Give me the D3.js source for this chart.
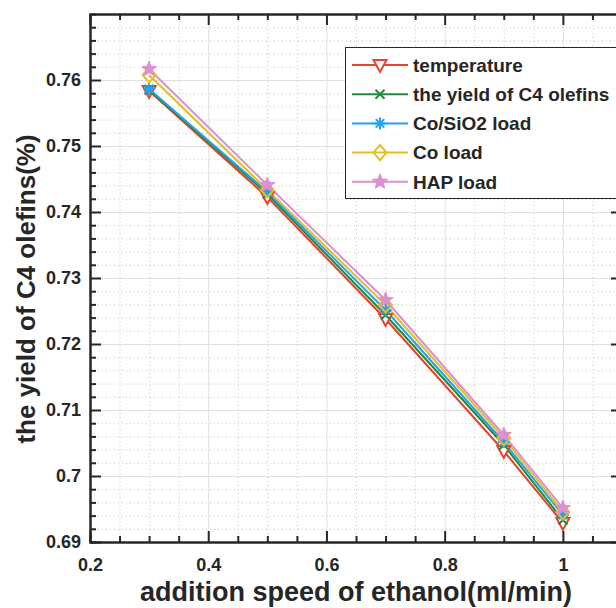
<!DOCTYPE html>
<html>
<head>
<meta charset="utf-8">
<script src="https://cdn.jsdelivr.net/npm/d3@7"></script>
<style>
  body { margin: 0; background: #fff; }
  text { font-family: "Liberation Sans", Arial, sans-serif; font-weight: bold; fill: #262626; }
</style>
</head>
<body>
<div id="chart"></div>
<script>
// data
var speeds = [0.3, 0.5, 0.7, 0.9, 1.0];
var temperature = [0.75833, 0.74227, 0.72379, 0.70379, 0.69288];
var c4Yield     = [0.75848, 0.74273, 0.72439, 0.70470, 0.69333];
var coSiO2Load  = [0.75864, 0.74303, 0.72515, 0.70515, 0.69409];
var coLoad      = [0.76076, 0.74333, 0.72591, 0.70576, 0.69455];
var hapLoad     = [0.76167, 0.74409, 0.72667, 0.70621, 0.69515];

var seriesNames = ["temperature", "the yield of C4 olefins", "Co/SiO2 load", "Co load", "HAP load"];
var xMajor = [0.2, 0.4, 0.6, 0.8, 1.0];
var yMajor = [0.69, 0.70, 0.71, 0.72, 0.73, 0.74, 0.75, 0.76];

var colors  = ["#e8412c", "#1c8b3c", "#21a3e8", "#e6be22", "#dc8fd3"];
var markers = ["tri", "x", "ast", "diamond", "star"];

makeChart();

function makeChart() {
  var W = 616, H = 608;
  var left = 90, right = 622, top = 14, bottom = 542;

  var svg = d3.select("#chart").append("svg")
      .attr("width", W)
      .attr("height", H);

  var x = d3.scaleLinear().domain([0.2, 1.1]).range([left, right]);
  var y = d3.scaleLinear().domain([0.69, 0.77]).range([bottom, top]);

  // minor tick positions
  var xMinor = d3.range(0, 19).map(function(i) { return +(0.2 + i * 0.05).toFixed(2); })
      .filter(function(v) { return xMajor.indexOf(v) < 0; });
  var yMinor = d3.range(0, 41).map(function(i) { return +(0.69 + i * 0.002).toFixed(3); })
      .filter(function(v) { return Math.round(v * 1000) % 10 != 0; });

  // grid: dotted minor, solid major
  svg.append("g")
      .attr("class", "grid minor")
      .attr("transform", "translate(0," + bottom + ")")
      .call(d3.axisBottom(x).tickValues(xMinor).tickSize(-(bottom - top)).tickFormat(""));
  svg.append("g")
      .attr("class", "grid minor")
      .attr("transform", "translate(" + left + ",0)")
      .call(d3.axisLeft(y).tickValues(yMinor).tickSize(-(right - left)).tickFormat(""));
  svg.append("g")
      .attr("class", "grid major")
      .attr("transform", "translate(0," + bottom + ")")
      .call(d3.axisBottom(x).tickValues(xMajor).tickSize(-(bottom - top)).tickFormat(""));
  svg.append("g")
      .attr("class", "grid major")
      .attr("transform", "translate(" + left + ",0)")
      .call(d3.axisLeft(y).tickValues(yMajor).tickSize(-(right - left)).tickFormat(""));

  svg.selectAll(".grid .domain").remove();
  svg.selectAll(".grid.minor line")
      .attr("stroke", "#c4c4c4")
      .attr("stroke-width", 1)
      .attr("stroke-dasharray", "1,3");
  svg.selectAll(".grid.major line")
      .attr("stroke", "#e0e0e0")
      .attr("stroke-width", 1);

  // series lines + markers
  var allSeries = [temperature, c4Yield, coSiO2Load, coLoad, hapLoad];
  var line = d3.line()
      .x(function(d, i) { return x(speeds[i]); })
      .y(function(d) { return y(d); });

  allSeries.forEach(function(vals, k) {
    svg.append("path")
        .datum(vals)
        .attr("fill", "none")
        .attr("stroke", colors[k])
        .attr("stroke-width", 2)
        .attr("d", line);
  });
  allSeries.forEach(function(vals, k) {
    vals.forEach(function(v, i) {
      drawMarker(svg, markers[k], colors[k], x(speeds[i]), y(v));
    });
  });

  // axes: inward ticks on all four sides
  var tickLen = 11, minorLen = 6;

  var gx = svg.append("g")
      .attr("class", "axis")
      .attr("transform", "translate(0," + bottom + ")")
      .call(d3.axisBottom(x).tickValues(xMajor).tickSize(-tickLen).tickSizeOuter(0)
        .tickPadding(16).tickFormat(function(d) { return d3.format("")(+d.toFixed(1)); }));
  gx.append("g").call(d3.axisBottom(x).tickValues(xMinor).tickSize(-minorLen).tickFormat(""));

  var gxt = svg.append("g")
      .attr("class", "axis")
      .attr("transform", "translate(0," + top + ")")
      .call(d3.axisTop(x).tickValues(xMajor).tickSize(-tickLen).tickSizeOuter(0).tickFormat(""));
  gxt.append("g").call(d3.axisTop(x).tickValues(xMinor).tickSize(-minorLen).tickFormat(""));

  var gy = svg.append("g")
      .attr("class", "axis")
      .attr("transform", "translate(" + left + ",0)")
      .call(d3.axisLeft(y).tickValues(yMajor).tickSize(-tickLen).tickSizeOuter(0)
        .tickPadding(9).tickFormat(function(d) { return d3.format("")(+d.toFixed(2)); }));
  gy.append("g").call(d3.axisLeft(y).tickValues(yMinor).tickSize(-minorLen).tickFormat(""));

  var gyr = svg.append("g")
      .attr("class", "axis")
      .attr("transform", "translate(" + right + ",0)")
      .call(d3.axisRight(y).tickValues(yMajor).tickSize(-tickLen).tickSizeOuter(0).tickFormat(""));
  gyr.append("g").call(d3.axisRight(y).tickValues(yMinor).tickSize(-minorLen).tickFormat(""));

  svg.selectAll(".axis g g .domain").remove();
  svg.selectAll(".axis .domain").attr("stroke", "#262626").attr("stroke-width", 2);
  svg.selectAll(".axis line").attr("stroke", "#262626").attr("stroke-width", 2);
  svg.selectAll(".axis text")
      .attr("font-size", 18)
      .attr("font-family", "'Liberation Sans', Arial, sans-serif")
      .attr("font-weight", "bold")
      .attr("fill", "#262626");

  // axis titles
  svg.append("text")
      .attr("x", (left + right) / 2)
      .attr("y", 601)
      .attr("text-anchor", "middle")
      .attr("font-size", 27)
      .text("addition speed of ethanol(ml/min)");

  svg.append("text")
      .attr("transform", "translate(35," + 289 + ") rotate(-90)")
      .attr("text-anchor", "middle")
      .attr("font-size", 26)
      .text("the yield of C4 olefins(%)");

  // legend
  var legend = svg.append("g").attr("class", "legend");
  legend.append("rect")
      .attr("x", 345.5).attr("y", 47.5)
      .attr("width", 276).attr("height", 151)
      .attr("fill", "#fff")
      .attr("stroke", "#262626")
      .attr("stroke-width", 1);

  seriesNames.forEach(function(name, k) {
    var ly = 65 + k * 29.2;
    legend.append("line")
        .attr("x1", 352).attr("x2", 408)
        .attr("y1", ly).attr("y2", ly)
        .attr("stroke", colors[k])
        .attr("stroke-width", 2);
    drawMarker(legend, markers[k], colors[k], 380, ly);
    legend.append("text")
        .attr("x", 413)
        .attr("y", ly)
        .attr("dy", "0.36em")
        .attr("font-size", 19)
        .text(name);
  });
}

// MATLAB-like markers
function drawMarker(sel, type, color, cx, cy) {
  var p = d3.path();
  if (type == "tri") {
    p.moveTo(cx - 6.5, cy - 5); p.lineTo(cx + 6.5, cy - 5); p.lineTo(cx, cy + 7); p.closePath();
    sel.append("path").attr("d", p.toString())
        .attr("fill", "#fff").attr("stroke", color).attr("stroke-width", 2);
  }
  else if (type == "x") {
    var r = 4.5;
    p.moveTo(cx - r, cy - r); p.lineTo(cx + r, cy + r);
    p.moveTo(cx - r, cy + r); p.lineTo(cx + r, cy - r);
    sel.append("path").attr("d", p.toString())
        .attr("fill", "none").attr("stroke", color).attr("stroke-width", 2);
  }
  else if (type == "ast") {
    var a = 6;
    for (var i = 0; i < 4; i++) {
      var ang = i * Math.PI / 4;
      p.moveTo(cx - a * Math.cos(ang), cy - a * Math.sin(ang));
      p.lineTo(cx + a * Math.cos(ang), cy + a * Math.sin(ang));
    }
    sel.append("path").attr("d", p.toString())
        .attr("fill", "none").attr("stroke", color).attr("stroke-width", 2);
  }
  else if (type == "diamond") {
    p.moveTo(cx, cy - 7.5); p.lineTo(cx + 6.5, cy); p.lineTo(cx, cy + 7.5); p.lineTo(cx - 6.5, cy); p.closePath();
    sel.append("path").attr("d", p.toString())
        .attr("fill", "#fff").attr("fill-opacity", 0).attr("stroke", color).attr("stroke-width", 2);
  }
  else if (type == "star") {
    var ro = 8, ri = 3.4;
    for (var j = 0; j < 10; j++) {
      var rr = j % 2 == 0 ? ro : ri;
      var t = -Math.PI / 2 + j * Math.PI / 5;
      var px = cx + rr * Math.cos(t), py = cy + rr * Math.sin(t);
      if (j == 0) p.moveTo(px, py); else p.lineTo(px, py);
    }
    p.closePath();
    sel.append("path").attr("d", p.toString())
        .attr("fill", color).attr("stroke", color).attr("stroke-width", 1);
  }
}
</script>
</body>
</html>
